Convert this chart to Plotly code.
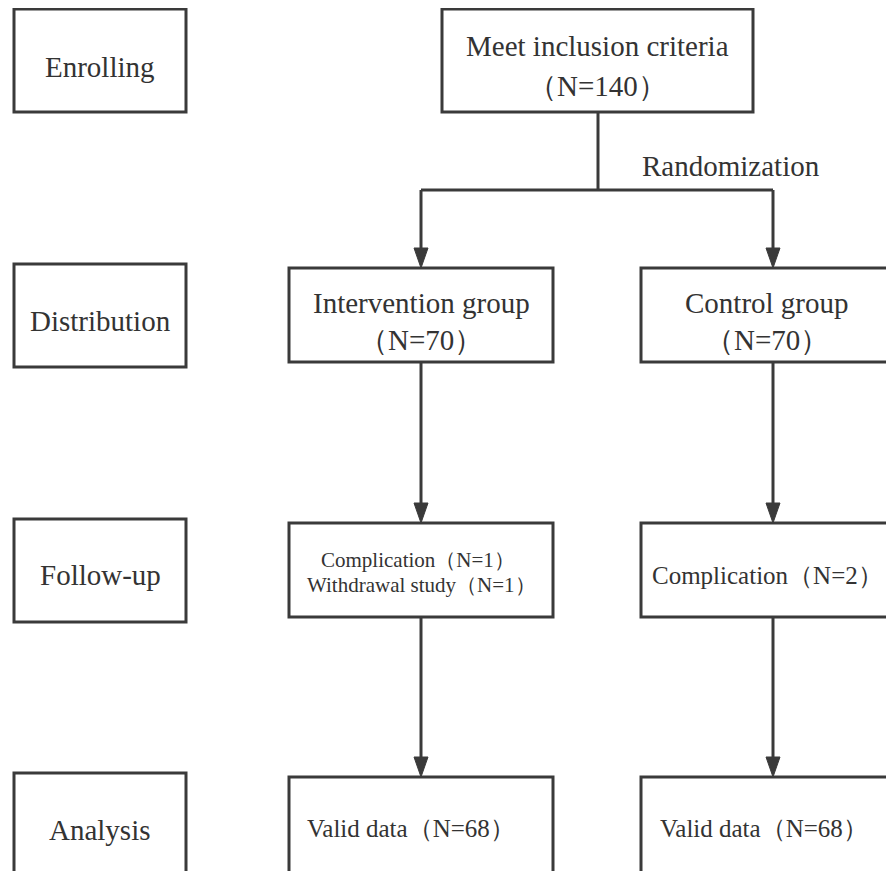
import plotly.graph_objects as go

# ---- data ----
stage_labels = ["Enrolling", "Distribution", "Follow-up", "Analysis"]
total_label = "Meet inclusion criteria"
total_n = 140
randomization_label = "Randomization"
group_names = ["Intervention group", "Control group"]
group_n = [70, 70]
complication_n = [1, 2]
withdrawal_n = [1, 0]
valid_n = [68, 68]

# ---- layout constants ----
W, H = 894, 871
OFF = 8  # page body margin compensation
LC = "#3a3a3a"
TC = "#333333"
LW = 3
FONT = "Liberation Serif"

stage_x = (14, 186)
stage_y = [(9, 112), (264, 367), (519, 622), (773, 900)]
group_x = [(289, 553), (641, 905)]
group_cx = [421, 773]
row_y = [(268, 362), (523, 617), (777, 900)]
meet_box = (442, 9, 753, 112)
split_x = 598
split_y = 190

shapes = []
annotations = []


def rect(x0, y0, x1, y1):
    shapes.append(dict(type="rect", x0=x0, y0=y0, x1=x1, y1=y1,
                       line=dict(color=LC, width=LW), fillcolor="rgba(0,0,0,0)",
                       layer="above"))


def line(x0, y0, x1, y1):
    shapes.append(dict(type="line", x0=x0, y0=y0, x1=x1, y1=y1,
                       line=dict(color=LC, width=LW), layer="above"))


def arrow_down(x, y0, y1):
    line(x, y0, x, y1 - 12)
    shapes.append(dict(type="path",
                       path=f"M {x-7},{y1-20} L {x+7},{y1-20} L {x},{y1} Z",
                       fillcolor=LC, line=dict(color=LC, width=1), layer="above"))


def text(x, y, s, size):
    annotations.append(dict(x=x, y=y, xref="x", yref="y", text=s, showarrow=False,
                            xanchor="center", yanchor="middle",
                            font=dict(family=FONT, size=size, color=TC)))


# stage boxes
stage_text_y = [67, 321, 575, 830]
for lab, (y0, y1), ty in zip(stage_labels, stage_y, stage_text_y):
    rect(stage_x[0], y0, stage_x[1], y1)
    text((stage_x[0] + stage_x[1]) / 2, ty, lab, 29)

# top box
rect(*meet_box)
text((meet_box[0] + meet_box[2]) / 2, 46, total_label, 29)
text((meet_box[0] + meet_box[2]) / 2, 86, f"（N={total_n}）", 29)

# split
line(split_x, meet_box[3], split_x, split_y)
line(group_cx[0], split_y, group_cx[1], split_y)
text(731, 166, randomization_label, 29)

for i in range(2):
    cx = group_cx[i]
    gx0, gx1 = group_x[i]
    arrow_down(cx, split_y, row_y[0][0])
    # distribution
    rect(gx0, row_y[0][0], gx1, row_y[0][1])
    text((289 + 553) / 2 if i == 0 else 767, 303, group_names[i], 29)
    text((289 + 553) / 2 if i == 0 else 767, 340, f"（N={group_n[i]}）", 29)
    arrow_down(cx, row_y[0][1], row_y[1][0])
    # follow-up
    rect(gx0, row_y[1][0], gx1, row_y[1][1])
    if withdrawal_n[i] > 0:
        text(418, 560, f"Complication（N={complication_n[i]}）", 21)
        text(421, 585, f"Withdrawal study（N={withdrawal_n[i]}）", 21)
    else:
        text(767, 575, f"Complication（N={complication_n[i]}）", 25)
    arrow_down(cx, row_y[1][1], row_y[2][0])
    # analysis
    rect(gx0, row_y[2][0], gx1, row_y[2][1])
    text(411 if i == 0 else 764, 828, f"Valid data（N={valid_n[i]}）", 25)

fig = go.Figure()
fig.update_layout(
    width=W, height=H,
    margin=dict(l=0, r=0, t=0, b=0),
    paper_bgcolor="white", plot_bgcolor="white",
    xaxis=dict(range=[OFF, W + OFF], visible=False, fixedrange=True),
    yaxis=dict(range=[H + OFF, OFF], visible=False, fixedrange=True),
    shapes=shapes, annotations=annotations, showlegend=False,
)
fig.write_html("out.html")
